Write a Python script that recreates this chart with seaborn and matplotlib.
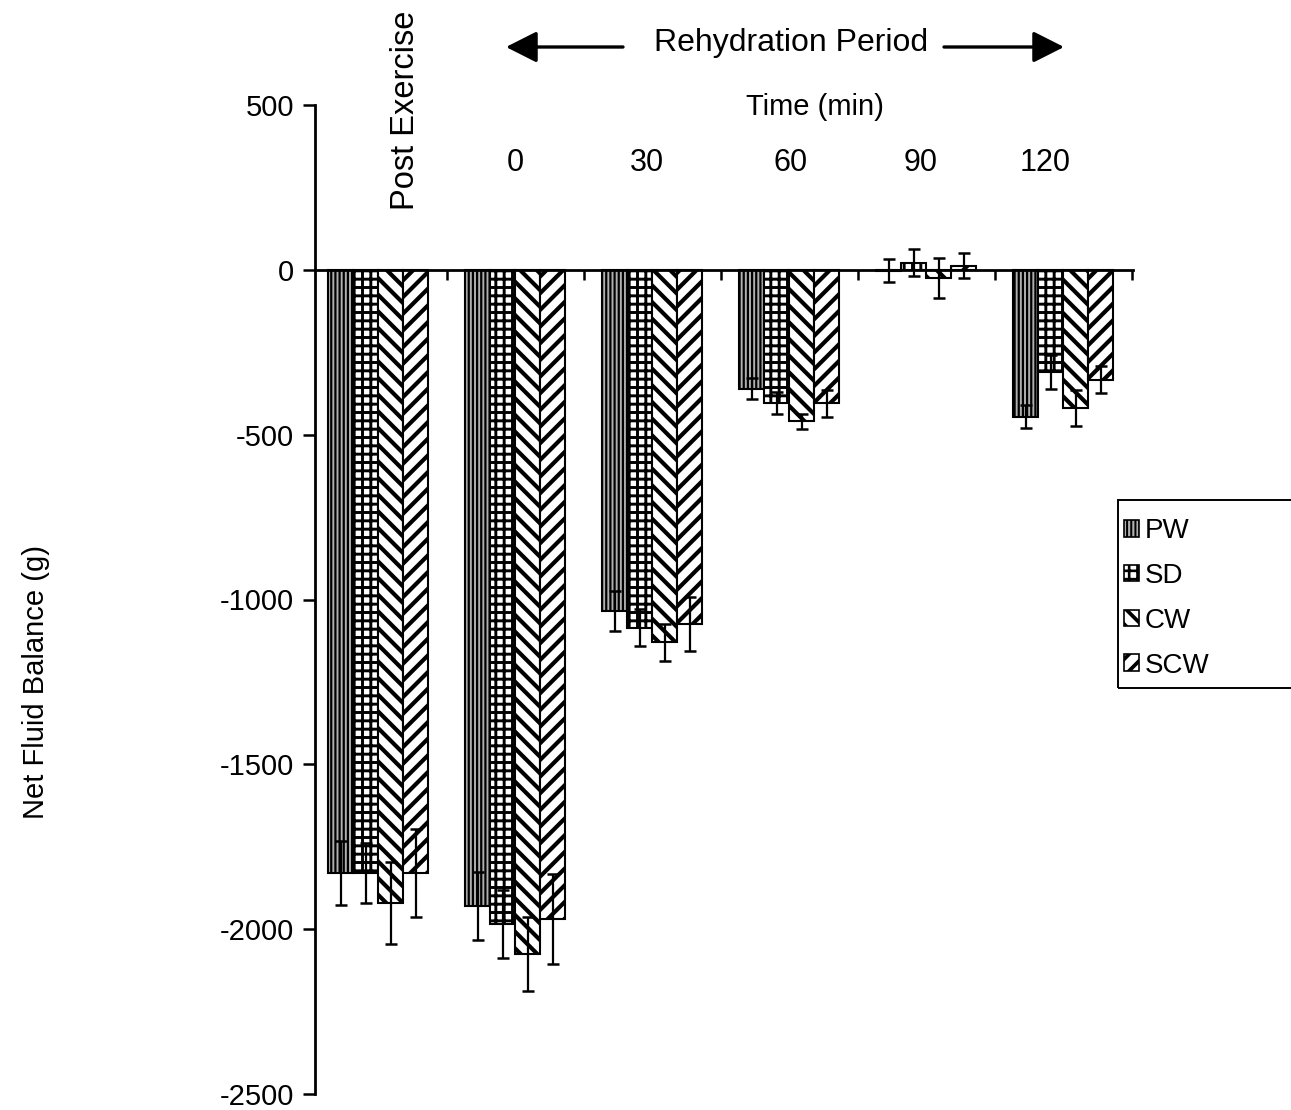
import matplotlib
matplotlib.use("Agg")
import matplotlib.pyplot as plt
import matplotlib.patches as mpatches
import matplotlib as mpl
import numpy as np
import pandas as pd
import seaborn as sns

# ---- data -------------------------------------------------------------
time_points = ["Post Exercise", "0", "30", "60", "90", "120"]
drinks = ["PW", "SD", "CW", "SCW"]

pw_mean = [-1830, -1930, -1035, -360, -3, -445]
sd_mean = [-1830, -1985, -1085, -405, 22, -310]
cw_mean = [-1920, -2075, -1130, -460, -25, -420]
scw_mean = [-1830, -1970, -1075, -405, 12, -333]

pw_err = [97, 103, 60, 33, 35, 36]
sd_err = [90, 103, 57, 33, 42, 52]
cw_err = [124, 112, 57, 22, 60, 54]
scw_err = [133, 136, 82, 40, 38, 42]

y_ticks = [500, 0, -500, -1000, -1500, -2000, -2500]

# ---- styling ----------------------------------------------------------
sns.set_style("ticks")
plt.rcParams["font.family"] = ["Liberation Sans", "DejaVu Sans"]
plt.rcParams["axes.unicode_minus"] = False
for key in ("text.color", "axes.labelcolor", "xtick.color", "ytick.color", "axes.edgecolor"):
    plt.rcParams[key] = "black"

# hatch pattern, hatch line width and fill per drink
hatch_style = {
    "PW": ("||||", 1.6, "#b0b0b0"),
    "SD": ("++", 2.1, "white"),
    "CW": ("\\\\", 3.0, "white"),
    "SCW": ("//", 3.0, "white"),
}

means = {"PW": pw_mean, "SD": sd_mean, "CW": cw_mean, "SCW": scw_mean}
errs = {"PW": pw_err, "SD": sd_err, "CW": cw_err, "SCW": scw_err}

df = pd.DataFrame(
    [(t, d, means[d][i]) for d in drinks for i, t in enumerate(time_points)],
    columns=["time", "drink", "balance"],
)

W, H, DPI = 12.91, 11.10, 100
fig = plt.figure(figsize=(W, H), dpi=DPI)
ax = fig.add_axes([315 / 1291, 1 - 1094 / 1110, (1133 - 315) / 1291, (1094 - 105) / 1110])

sns.barplot(
    data=df, x="time", y="balance", hue="drink",
    order=time_points, hue_order=drinks,
    palette=["white"] * 4, width=0.73, errorbar=None,
    edgecolor="black", linewidth=1.5, legend=False, ax=ax,
)


def hatch_lw(patch, lw):
    """Give a patch its own hatch line width."""
    if hasattr(patch, "set_hatch_linewidth"):
        patch.set_hatch_linewidth(lw)
    orig = patch.draw

    def draw(renderer, _orig=orig, _lw=lw):
        with mpl.rc_context({"hatch.linewidth": _lw}):
            _orig(renderer)
    patch.draw = draw


for drink, container in zip(drinks, ax.containers):
    hatch, lw, fc = hatch_style[drink]
    xs = []
    for bar in container:
        bar.set_facecolor(fc)
        bar.set_hatch(hatch)
        bar.set_edgecolor("black")
        hatch_lw(bar, lw)
        xs.append(bar.get_x() + bar.get_width() / 2)
    ax.errorbar(xs, means[drink], yerr=errs[drink], fmt="none",
                ecolor="black", elinewidth=1.6, capsize=4, capthick=1.8, zorder=5)

# ---- axes -------------------------------------------------------------
ax.set_xlim(-0.46, 5.51)
ax.set_ylim(-2500, 500)
ax.set_yticks(y_ticks)
ax.set_yticklabels([str(v) for v in y_ticks], fontsize=21)
ax.set_xticks(np.arange(0.5, 6.0, 1.0))
ax.set_xticklabels([])
ax.set_xlabel("")
ax.set_ylabel("")
ax.spines["top"].set_visible(False)
ax.spines["right"].set_visible(False)
ax.spines["bottom"].set_position(("data", 0))
ax.spines["bottom"].set_zorder(6)
for s in ("left", "bottom"):
    ax.spines[s].set_linewidth(2.0)
    ax.spines[s].set_color("black")
ax.tick_params(axis="y", direction="out", length=9, width=1.8, pad=6, colors="black")
ax.tick_params(axis="x", direction="out", length=7, width=1.8, colors="black")

# category labels along the top of the plot
label_shift = [0.2, 0.0, -0.04, 0.01, -0.04, -0.13]
for i, (lab, dx) in enumerate(zip(time_points, label_shift)):
    if i == 0:
        ax.text(i + dx, 483, lab, rotation=90, ha="center", va="center",
                fontsize=23.5, clip_on=False)
    else:
        ax.text(i + dx, 323, lab, ha="center", va="center", fontsize=22)

fig.text(815 / 1291, 1 - 107 / 1110, "Time (min)", ha="center", va="center", fontsize=21)
fig.text(791 / 1291, 1 - 43 / 1110, "Rehydration Period", ha="center", va="center", fontsize=23)

arrow_kw = dict(arrowstyle="-|>,head_length=0.95,head_width=0.48", mutation_scale=20,
                lw=2.4, color="black", shrinkA=0, shrinkB=0)
ax.annotate("", xy=(506, 1110 - 47), xytext=(623, 1110 - 47),
            xycoords="figure pixels", textcoords="figure pixels", arrowprops=arrow_kw)
ax.annotate("", xy=(1064, 1110 - 47), xytext=(944, 1110 - 47),
            xycoords="figure pixels", textcoords="figure pixels", arrowprops=arrow_kw)

fig.text(36 / 1291, 1 - 682 / 1110, "Net Fluid Balance (g)", rotation=90,
         ha="center", va="center", fontsize=21)

# ---- legend -----------------------------------------------------------
handles = []
for d in drinks:
    hatch, lw, fc = hatch_style[d]
    p = mpatches.Patch(facecolor=fc, edgecolor="black", hatch=hatch, linewidth=1.2, label=d)
    handles.append(p)
leg = fig.legend(handles=handles, loc="upper left",
                 bbox_to_anchor=(1124 / 1291, 1 - 518 / 1110), bbox_transform=fig.transFigure,
                 frameon=False, fontsize=20, handlelength=0.55, handleheight=0.55,
                 handletextpad=0.2, labelspacing=0.68, borderpad=0, borderaxespad=0)
for h, d in zip(leg.legend_handles, drinks):
    hatch_lw(h, hatch_style[d][1] * 0.9)

fig.patches.append(mpatches.Rectangle((1118 / 1291, 1 - 688 / 1110), 0.2, (688 - 500) / 1110,
                                      transform=fig.transFigure, fill=False,
                                      edgecolor="black", linewidth=1.4))

fig.savefig("out.png", dpi=DPI)
